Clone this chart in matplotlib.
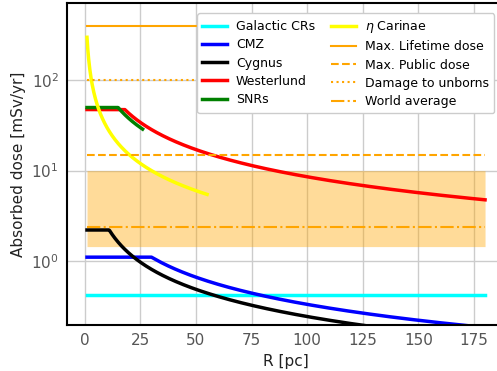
import numpy as np
import matplotlib
matplotlib.use('Agg')
import matplotlib.pyplot as plt

# dose profiles [mSv/yr] vs distance R [pc]
r_max = 180
gal_level = 0.42
cmz_level, cmz_rc = 1.1, 30
cyg_level, cyg_rc = 2.2, 11
wd_level, wd_rc = 47.5, 18
snr_level, snr_rc, snr_rmax = 50, 15, 26
eta_norm, eta_rmax = 300, 55

# reference doses
lifetime_dose = 400
public_dose = 15
unborn_dose = 100
world_avg = 2.4
natural_range = (1.44, 10)


def profile(r, level, rc):
    return np.where(r < rc, level, level * rc / r)


r = np.linspace(1, r_max, 600)
r_snr = np.linspace(1, snr_rmax, 200)
r_eta = np.linspace(1, eta_rmax, 300)

fig = plt.figure(figsize=(4.97, 3.71), dpi=100)
ax = fig.add_axes([0.135, 0.124, 0.881, 0.868])

ax.plot(r, np.full_like(r, gal_level), color='cyan', lw=2.5, label='Galactic CRs')
ax.plot(r, profile(r, cmz_level, cmz_rc), color='blue', lw=2.5, label='CMZ')
ax.plot(r, profile(r, cyg_level, cyg_rc), color='black', lw=2.5, label='Cygnus')
ax.plot(r, profile(r, wd_level, wd_rc), color='red', lw=2.5, label='Westerlund')
ax.plot(r_snr, profile(r_snr, snr_level, snr_rc), color='green', lw=2.5, label='SNRs')
ax.plot(r_eta, eta_norm / r_eta, color='yellow', lw=2.5, label=r'$\eta$ Carinae')

ax.plot(r, np.full_like(r, lifetime_dose), color='orange', lw=1.5, label='Max. Lifetime dose')
ax.plot(r, np.full_like(r, public_dose), color='orange', lw=1.5, ls='--', label='Max. Public dose')
ax.plot(r, np.full_like(r, unborn_dose), color='orange', lw=1.5, ls=':', label='Damage to unborns')
ax.plot(r, np.full_like(r, world_avg), color='orange', lw=1.5, ls='-.', label='World average')
ax.fill_between(r, natural_range[0], natural_range[1], color='orange', alpha=0.4, lw=0)

ax.set_yscale('log')
ax.set_ylim(0.195, 720)
ax.set_xticks([0, 25, 50, 75, 100, 125, 150, 175])
ax.grid(True, which='major', color='#cccccc', lw=1)
ax.set_axisbelow(True)
ax.tick_params(which='both', length=0, labelsize=11, labelcolor='#555555', pad=6)
ax.minorticks_off()
for s in ax.spines.values():
    s.set_linewidth(1.5)
    s.set_color('black')

ax.set_xlabel('R [pc]', fontsize=11, color='#222222', labelpad=4)
ax.set_ylabel('Absorbed dose [mSv/yr]', fontsize=11, color='#222222')

leg = ax.legend(ncol=2, fontsize=9, loc='upper left', bbox_to_anchor=(0.283, 0.988),
                handlelength=2.0, handletextpad=0.7, columnspacing=1.3,
                labelspacing=0.42, borderpad=0.4, framealpha=1)
leg.get_frame().set_edgecolor('#cccccc')

fig.savefig('out.png', dpi=100)
